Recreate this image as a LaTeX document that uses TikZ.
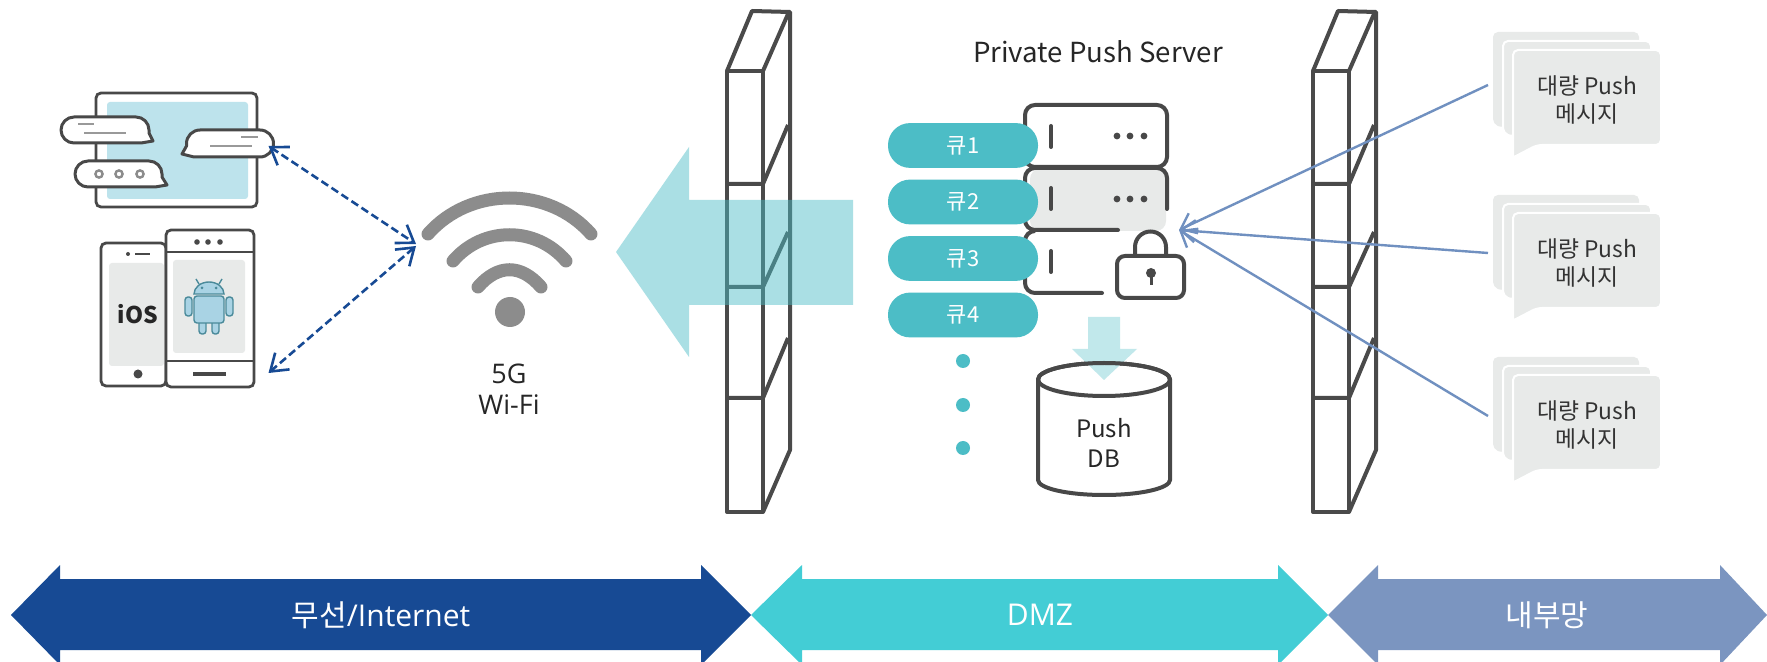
\documentclass[tikz,border=0pt]{standalone}
\usepackage{fontspec}
\setmainfont{Open Sans}
\newfontfamily\kr{Noto Sans CJK KR}
\usetikzlibrary{arrows.meta}
\definecolor{ln}{HTML}{484848}
\definecolor{fwl}{HTML}{4A4A4A}
\definecolor{lgrey}{HTML}{E8EAE9}
\definecolor{skyb}{HTML}{BDE3EC}
\definecolor{teal1}{HTML}{4CBDC6}
\definecolor{navy1}{HTML}{174A94}
\definecolor{cyan1}{HTML}{43CDD5}
\definecolor{peri}{HTML}{7B95C0}
\definecolor{lnkb}{HTML}{7090C0}
\definecolor{wifi}{HTML}{8C8C8C}
\definecolor{andf}{HTML}{A9D3E4}
\definecolor{andl}{HTML}{4A8A9A}
\tikzset{
  x=0.5pt,y=-0.5pt,
  every node/.style={inner sep=0pt,outer sep=0pt,align=center},
  fwline/.style={draw=fwl,line width=2pt,line join=round},
  bub/.style={draw=ln,fill=white,line width=1.5pt,line join=round},
  bubtxt/.style={draw=black!40,line width=1pt},
  devline/.style={draw=ln,line width=1.4pt,rounded corners=2.5pt},
  srv/.style={draw=ln,line width=2pt,line cap=round},
  pill/.style={fill=teal1,rounded corners=11pt,minimum width=75pt,minimum height=22.4pt,text=white,font=\kr\fontsize{11}{13}\selectfont},
  msgback/.style={fill=lgrey,draw=white,line width=1pt,rounded corners=2.5pt},
  msgtxt/.style={font=\kr\fontsize{11.4}{14}\selectfont,text=black!80},
  band/.style={text=white,font=\fontsize{15}{18}\selectfont},
  dlink/.style={draw=navy1,line width=1.3pt,dash pattern=on 4pt off 2pt,{Straight Barb[length=8pt,width=11pt,line width=1.3pt]}-{Straight Barb[length=8pt,width=11pt,line width=1.3pt]}},
  blink/.style={draw=lnkb,line width=1.2pt,-{Straight Barb[length=7pt,width=11pt,line width=1.2pt]}},
  wf/.style={draw=wifi,line width=6.5pt,line cap=round},
  tx/.style={font=\kr\fontsize{12}{15}\selectfont,text=black!85},
}
\begin{document}
\begin{tikzpicture}
\useasboundingbox (0,0) rectangle (1767,662);
\clip (0,0) rectangle (1767,662);
\fill[white] (0,0) rectangle (1767,662);

% bottom bands
\fill[navy1] (11,615) -- (60,565) -- (60,579) -- (701,579) -- (701,565) -- (751,615) -- (701,665) -- (701,650) -- (60,650) -- (60,665) -- cycle;
\fill[cyan1] (751,615) -- (802,565) -- (802,579) -- (1278,579) -- (1278,565) -- (1328,615) -- (1278,665) -- (1278,650) -- (802,650) -- (802,665) -- cycle;
\fill[peri] (1328,615) -- (1378,565) -- (1378,579) -- (1720,579) -- (1720,565) -- (1767,615) -- (1720,665) -- (1720,650) -- (1378,650) -- (1378,665) -- cycle;
\node[band] (bandA) at (381,615) {{\kr 무선}/Internet};
\node[band] (bandB) at (1040,615) {DMZ};
\node[band] (bandC) at (1547,615) {\kr 내부망};

% firewalls
\foreach \dx/\nm in {0/one,586/two}{
\begin{scope}[xshift=\dx*0.5pt]
\draw[fwline] (727,71) rectangle (763,512);
\draw[fwline] (727,71) -- (752,11) -- (790,12) -- (790,450) -- (763,512);
\draw[fwline] (763,71) -- (788,14);
\foreach \yy/\yb in {184/125,287/232,398/338}{
  \draw[fwline] (727,\yy) -- (763,\yy) -- (788,\yb);
}
\end{scope}
}

% big arrow
\fill[fill=teal1,fill opacity=0.47] (616,252) -- (689,147) -- (689,200) -- (853,200) -- (853,305) -- (689,305) -- (689,357) -- cycle;

% tablet
\draw[devline,fill=white] (96,93) rectangle (257,207);
\fill[skyb,rounded corners=1.5pt] (107,102) rectangle (248,199);
\draw[bub] (153,141) -- (141,143) -- (74,143) arc[start angle=90,end angle=270,radius=13] -- (136,117) arc[start angle=270,end angle=360,radius=13] -- (149,133) -- cycle;
\draw[bubtxt] (78,124) -- (94,124) (84,133) -- (126,133);
\draw[bub] (182,154) -- (194,157) -- (260,157) arc[start angle=90,end angle=-90,radius=13.5] -- (200,130) arc[start angle=270,end angle=180,radius=13.5] -- (186.5,146) -- cycle;
\draw[bubtxt] (241,137) -- (258,137) (210,146) -- (252,146);
\draw[bub] (167,185) -- (155,187) -- (88,187) arc[start angle=90,end angle=270,radius=13] -- (149,161) arc[start angle=270,end angle=360,radius=13] -- (162,177) -- cycle;
\foreach \xx in {99,119,140}{\draw[draw=black!45,line width=1.2pt,fill=white] (\xx,174) circle[radius=3.6];}

% phones
\draw[devline,fill=white] (101,243) rectangle (166,386);
\fill[lgrey,rounded corners=1.5pt] (109,263) rectangle (164,366);
\fill[ln] (128,254) circle[radius=2];
\draw[ln,line width=1pt] (135,254) -- (150,254);
\fill[ln] (138,374) circle[radius=4.5];
\node[font=\kr\bfseries\fontsize{11.5}{15}\selectfont,text=black!85] (ios) at (138,314) {iOS};
\draw[devline,fill=white] (166,230) rectangle (254,387);
\draw[ln,line width=1.4pt] (166,252) -- (254,252) (166,361) -- (254,361);
\fill[lgrey,rounded corners=1.5pt] (173,260) rectangle (245,353);
\foreach \xx in {197,208,220}{\fill[ln] (\xx,242) circle[radius=2.8];}
\draw[ln,line width=2pt] (193,374) -- (226,374);
% android
\begin{scope}[line width=0.7pt]
\filldraw[fill=andf,draw=andl,rounded corners=1.5pt] (199,312) rectangle (206,334);
\filldraw[fill=andf,draw=andl,rounded corners=1.5pt] (212,312) rectangle (219,334);
\filldraw[fill=andf,draw=andl,rounded corners=1.5pt] (185,297) rectangle (192,316);
\filldraw[fill=andf,draw=andl,rounded corners=1.5pt] (226,297) rectangle (233,316);
\filldraw[fill=andf,draw=andl,rounded corners=1.5pt] (194,296) rectangle (224,323);
\filldraw[fill=andf,draw=andl] (194,294) arc[start angle=180,end angle=360,x radius=15,y radius=12] -- cycle;
\draw[andl] (199,284) -- (196,279) (219,284) -- (222,279);
\end{scope}
\fill[andl] (202,288) circle[radius=1.5] (216,288) circle[radius=1.5];

% wifi
\draw[wf] (428,234) .. controls (470,186) and (549,186) .. (591,234);
\draw[wf] (453,261) .. controls (483,226) and (536,226) .. (566,261);
\draw[wf] (478,287) .. controls (498,264) and (521,264) .. (541,287);
\fill[wifi] (510,312) circle[radius=15];
\node[font=\fontsize{13.5}{15.5}\selectfont,text=black!85] (wifilab) at (509,389) {5G\\Wi-Fi};

% coordinates of the link ends
\coordinate (bubEnd) at (268.5,146);
\coordinate (wifiA) at (416,244);
\coordinate (wifiB) at (416,246);
\coordinate (phoneEnd) at (268.5,373);
\draw[dlink] (bubEnd) -- (wifiA);
\draw[dlink] (wifiB) -- (phoneEnd);

% server
\fill[lgrey,rounded corners=5pt] (1030,169) rectangle (1166,231);
\draw[srv,rounded corners=5pt] (1025,105) rectangle (1167,167);
\draw[srv] (1167,209) [rounded corners=5pt] -- (1167,168) -- (1025,168) -- (1025,230) -- (1118,230);
\draw[srv] (1033,231) [rounded corners=5pt] -- (1025,231) -- (1025,293) -- (1102,293);
\foreach \yy in {126,188,251}{\draw[srv] (1051,\yy) -- (1051,\yy+21);}
\foreach \yy in {136,199}{\foreach \xx in {1117,1130,1144}{\fill[ln] (\xx,\yy) circle[radius=3.4];}}

% queues
\node[pill] (q1) at (963,145.5) {큐1};
\node[pill] (q2) at (963,202) {큐2};
\node[pill] (q3) at (963,258.5) {큐3};
\node[pill] (q4) at (963,315) {큐4};
\foreach \yy in {361,405,448}{\fill[teal1] (963,\yy) circle[radius=7];}

% lock
\draw[ln,line width=2pt] (1135,256) -- (1135,247) arc[start angle=180,end angle=360,radius=15.5] -- (1166,256);
\draw[ln,line width=2pt,fill=white,rounded corners=4pt] (1117,256) rectangle (1184,298);
\fill[ln] (1151,273) circle[radius=5];
\draw[ln,line width=1.5pt] (1151,273) -- (1151,285);

% database
\draw[ln,line width=2pt,fill=white] (1038,379.5) -- (1038,480) arc[start angle=180,end angle=0,x radius=66,y radius=15] -- (1170,379.5) arc[start angle=0,end angle=-180,x radius=66,y radius=16.5] -- cycle;
\fill[teal1!40!white,fill opacity=0.85] (1088,317) -- (1120,317) -- (1120,349) -- (1137,349) -- (1104,380) -- (1072,349) -- (1088,349) -- cycle;
\draw[ln,line width=2pt] (1038,379.5) arc[start angle=180,end angle=0,x radius=66,y radius=16.5];
\draw[ln,line width=2pt] (1038,379.5) arc[start angle=180,end angle=360,x radius=66,y radius=16.5];
\node[tx] (dblab) at (1104,443) {Push\\DB};
\node[font=\kr\fontsize{13.8}{15}\selectfont,text=black!85] (title) at (1098,52) {Private Push Server};

% messages
\foreach \dy/\nm in {0/a,163/b,325/c}{
\begin{scope}[yshift=-\dy*0.5pt]
\fill[lgrey,rounded corners=2.5pt] (1493,32) -- (1639,32) -- (1639,60) -- (1503,128) -- (1493,124) -- cycle;
\draw[msgback] (1503,41) -- (1651,41) -- (1651,60) -- (1513,137) -- (1503,133) -- cycle;
\draw[msgback] (1513,50) -- (1661,50) -- (1661,145) -- (1537,145) [sharp corners] -- (1514,157) -- (1513,157) [rounded corners=2.5pt] -- cycle;
\node[msgtxt] (msg\nm) at (1587,100) {대량 Push\\메시지};
\coordinate (end\nm) at (1488,\ifnum\dy=0 85\else\ifnum\dy=163 90\else 91\fi\fi);
\end{scope}
}

% links
\coordinate (srvIn) at (1179,230);
\draw[blink] (enda) -- (srvIn);
\draw[blink] (endb) -- (srvIn);
\draw[blink] (endc) -- (srvIn);
\end{tikzpicture}
\end{document}
